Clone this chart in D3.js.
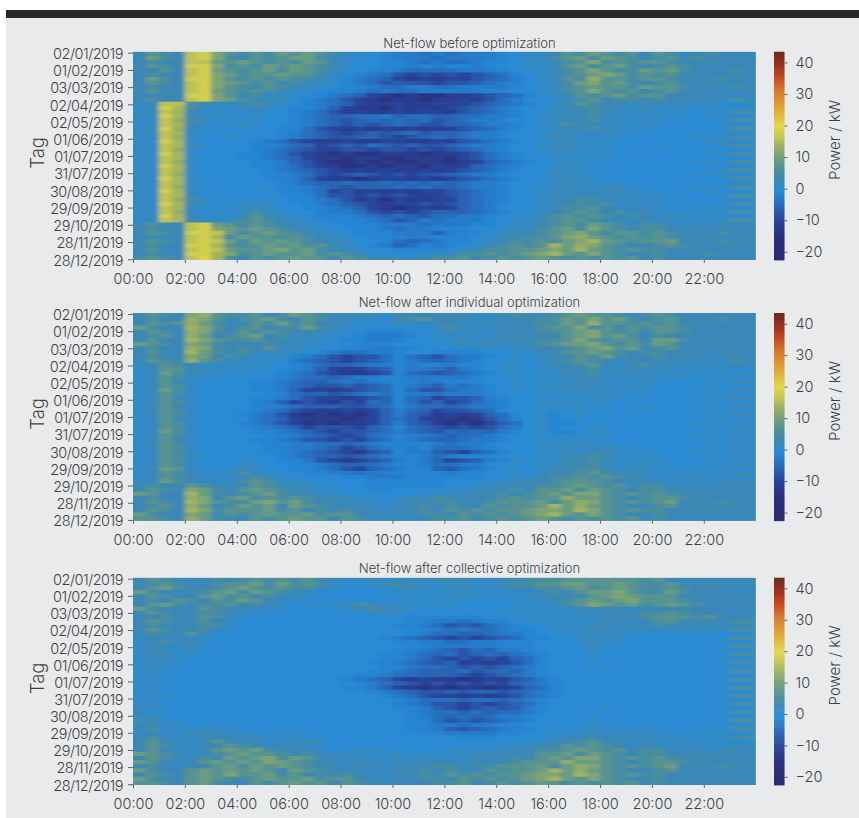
<!DOCTYPE html>
<html><head><meta charset="utf-8">
<script src="https://cdn.jsdelivr.net/npm/d3@7/dist/d3.min.js"></script>
<style>
html,body{margin:0;padding:0;background:#fff}
svg{display:block}
text{font-family:"Inter",sans-serif;font-weight:300;fill:#3f3f42}
</style></head><body><svg id="c" width="859" height="818"></svg>
<script>
// Level letters -> kW
const levelKeys = "abcdefghijklmnopqrst".split("");
const levelKw = [-14,-12,-10,-8,-6,-4.5,-3,-1.5,0,1.5,3,5,7,9,11,12.5,14,16,18,21];
const dateLabels = ["02/01/2019","01/02/2019","03/03/2019","02/04/2019","02/05/2019","01/06/2019","01/07/2019","31/07/2019","30/08/2019","29/09/2019","29/10/2019","28/11/2019","28/12/2019"];
const hourTicks = [0,2,4,6,8,10,12,14,16,18,20,22];
const hourLabels = ["00:00","02:00","04:00","06:00","08:00","10:00","12:00","14:00","16:00","18:00","20:00","22:00"];
const barTicks = [-20,-10,0,10,20,30,40];
const colorStops = [-22.6,-15,-10,-6,-2,0,3,6,10,14,17,20,23,27,31,35,39,43.4];
const colorHex = ["#2c2a70","#2b2f7c","#28459b","#2a63b4","#2483d2","#2a8bd4","#3a88b6","#4e8f98","#72a07c","#a4b45f","#c9c952","#e2d94c","#e2bc40","#dd9a35","#d67a2c","#c94c24","#a0321c","#6c2c1c"];
const titles = ["Net-flow before optimization","Net-flow after individual optimization","Net-flow after collective optimization"];

const netBefore = [
"kmlkrsom lmlnmnmk kjihggfg fggghijj kmlnmlmk mlkklkkk",
"knlkrsol kmlmnnlk jiihgggf gggghijj lmnlnmlk lmklkkkk",
"klkkrrnm nmlmlnmk jiihhgfg ffghhijj klmolmlm mlkkkkkk",
"kmlkssol mlnmnmlk jiihhghg hhghiijj kmnlmnlk lmlkkkkk",
"kkmkrsnm lmnlnmlk iihhgfff fggghijj klmomlln mnlkkklk",
"klkkrson lmmnmmkj ihgfdcdc dcdefhij jlmnonlm lmkkkkkk",
"knlkssom lmlmllkj hgfecbcb ccdefgij kmlpmmlm mlkkklkk",
"kmlkrson mlmklkjj hgfdeddc ddefghij jlnomnlk lmkkkkkk",
"klkkrsom lkmlkjji hhgffggf fgggghij jlmnmmln mmlkkjlk",
"kmkkrsnm lmlkjjih hgfgffgg ggghhiij klmomlmk lmkkkkjk",
"kkkkssom kljjiihg fecbabaa bbcdefhi jkmlmnlm mkkkjkjk",
"klkkrson lkjkjhgf dcbabbab bcbdfgii jjlmkllk lkkkkjlj",
"jkrrlkjj klkjihgf ecbbcbbc ccdefghi jkmlkkjk kkjjjiik",
"jjsqljjj jkjihhge cbbacbbb cdefghij jkklkkjk jjjijjii",
"jkrqkjji jjjihgfd bcbbcbcc bdefghii kjklkjjk jjjijjll",
"kjsqkjjj ijiihgfe effgeffe effgghij jkklkjjj jjiijjii",
"jjrplkji jjiihgfe defefefd efgghiij jkkljjjj jiiiijll",
"jjrqkjij kjiihgfe dedefedd eefgghij klkkjjjj jiiiijii",
"jkspjjji iiihhfdc bcbcbcbb cdefghii jkklkjjj iiiiiill",
"jjrqkiii iiihgfed cdedefde efgghiij kjjjjjii iiiiijii",
"kjrpjiij jiihgfed deedcdef efgghiij kkjjjjii iiijjjll",
"jjsqjiii ihgfdcbb cbbccbbc bdefghii jjjjjiii iiiijjii",
"jjrqkjii ihhgfecd edfededd efgghiij jkjjjiii jiiiijll",
"kjrpjiii ihgfedcc ddcddcdc defghiij kkjjjiii iiiijiii",
"jjsqjiii hhgfdcba baabbbab bcdfghii jjjjjiji iiiijjll",
"jjrqjiii hhgfecbb abbaabbb acdfghii jjjjjiii iiiiiiii",
"jjrpjiii ihhgedba ababaabb abcefghi jjjiiiii iiijjjll",
"jjsqjiii ihhgfdcb aababbac bcefghii jkjjjiii iiiijiii",
"kjrqkiii iihgfedc bcbcbbcb cdefghii jjjiiiii iiiiijll",
"jjrpjiii iihhgfdc dedcdcdd efgghiii kkjjiiii iiijjjii",
"jjsqjiii iihhgecb babccbcb cdefghii jjjjiiii iiiiijll",
"jjrqkiii iiihgfee feefefef efgghiii kkjjjjii iiiiiiii",
"kjrpjjii iijhhgfe deeefefe efgghiij jjkjjkji iijjjjll",
"jjsqjiii iiihhgfc dbcbcbcc defghiij jkjjkkjj iiiijiii",
"jjrqkiji iiiihhfd dcdcdcbc defghiij kjkkjjjj jiiiijll",
"jjrplkii jijihhgf dbcacbbc cefghiij kkllkkjj jjiiiiii",
"kjsqjjii jkjiihgf edcbccdc defghiij jklkljjj jijiijll",
"jjrqkjij kjjiihhg fecbabcb cefgiijj kllmkjkk jiijjjii",
"jjrpjiji jljjiihg gfdcdcde eefghijj klmlkljk jjjjjjll",
"jksqkjjj kmkjjihh hgfefedf fgghijjk lmlmlklk jkjjjjii",
"jjrqkjjj lmlkjjih hhgfdegf ggghijjk lmmlkkjk jjjjjjll",
"kmkkrsnm lmlkkjji hhhgggfg gghhijjk lmlnmlkl lkjkjkkj",
"klkkrson mnmlkkji ihhgfggh hhiijjjl mnlomlkl lkkkkkkk",
"kmlkssrn lmnmlkjj ihhhggge ghhijkkl mnomlmml mlkkklkk",
"kkkkrsql nmmlmlkk jihhhggh hhijkkll mopnmlml mlkkkkkk",
"kmlkrsrn lnmnmlkj kiihfefg hhijkllm lnoqnmlm mnkkklkk",
"klkkssqm lmnmnlmk jihgefhg hijklmlm qnpomlkk lmlkkkkk",
"kmkkrsrn mmnomnlk kjiihhhh ijkllmmn onqnmlml lkkkkkkk",
"klkkssqo lmnmmnlm lkjiiijj kllmlmno qnmomlkk lkkklkkk",
"lmlkrtql kmlmnmmk mlkkkjkl lmklmlmn mlmlmlmk lkkkkkkk"
];
const netIndividual = [
"kmlkopml lmklnmlk kkkjkkkk kkjjklkk lmnmmlkl mlkkkkkk",
"klkkpomk lmnlkmlk kjjiklmk kkjjkkkl lnmomnlk lmkkklkk",
"kmlmpnlk kmlnlmkk jiijkjjk kjjkkkkl lnmpmmlm lmkkkkkk",
"nlkkqomk lmkllnlk jjiiiiij lkjjkkkl mmolmkml mmlkkkkk",
"kmlkpolk mlmlkkkj jihhhiij kjjjkkkl lmnomlmk mmlkkkkk",
"klmkpnkl mnklkkjj ihggghij jjjjkkkk kmnomnlk lkkkkkkk",
"kmkkqoml lmkkjjji hhgghiii jkjkkkkl lmomlmmk nnlkkkkk",
"nmlkonlk kklkkjjj ihhhiiij jkjkjkkl mnnomlml nmkkkkkk",
"klkkpolk lkmjkjii hhgghhii iijjjjkk klmnomnk lmkkkkjk",
"kmkkqnlk lkjkjihg ffgghiih hhhiijjk kmmnmlkl lkkkjkkk",
"klkkonkl kjjjhgf dcddfhf edfgghij ij kkmlnlkk lkkkjkkk",
"kmlkpmlk jjjigfe dcdefhg fefghiij ij klmlkjkk kkkjkjlk",
"jkmlkjjj jjjihgf eefgghg hhghhijj ij kklmkjkl kkjjjjkk",
"jkmmkjjj jjiihge cbcdehg gfeghijj ij jkkljkkj jjjjjjii",
"jjnlkkji jiihgfd cbbcdhf edefghij ij jkkljjkk jjjjijkk",
"jkmljjji jiihgff efgghhg gggghiij ij jkkkjjjj jjjijjii",
"jjmkjiii ihhgfee fgfghhh gghhhiij ij jjkkjjjj jiiijikk",
"jkmljiii ihhgfed dedefhg fegfghij ij jkkjjjjj iiiijiii",
"jjnljiii ihhgecc bcdefhf ddfgghij ij jjjjkjjj iiiijikk",
"jkmljiii iihhfee defgfhg gfggghii ij jjjjjjjj iiijjiii",
"jjmkjiii ihhgfdc cbcdehf ecddeghi ij ijjjjjii iiiijjkk",
"jkmljiii ihgecdc bdcfehf decdfghi ij jjjjjiii iiiijiii",
"jkmkjiii ihhgfee eddefhg ffefgghi ij jjjjjiij iiijjikk",
"jjmljiii ihgfdcb bcbcegf ecddefhi ij ijjiiijj iiiiijii",
"jkmljiii hgfdbab abacege dbcbcefh ij hijiiiii iiiijikk",
"jjmkjiii igfecbb babcefe cbbabdfh ij hijiiiii iiiiijii",
"jjmljiii hgfdcab abbcege dbabacef ij hhijiiii iiijjjkk",
"jkmljiii ihgfecd ddcefhf edcdcdfg ij hiijjiii iiiijiii",
"jjnljiii ihhgfed cddefgf edfefegh ij hhijjiii iiiijikk",
"jkmljiii iihhgfe dcdfghg gfeffghi ij ijjjjiii iiijjjii",
"jjmkjiii ihhgfdd cdcefhg feefgghi ij jjjjiiii iiiijikk",
"jkmljiii iihhggf fefghhh hgfgghii ij jjkjjiii iiiijiii",
"jjmljiii iihhggf ecdfghg hfffghii ij jjjjkjji iiiijikk",
"jjmljiii iihhgfe dcbdehg gedcefhi ij jkjkkjjj iiijjjii",
"jkmljjii iiihgfe edefghh gfghhhij ij jkklkjjj jiiijikk",
"jjmljiii jiihhgd cbcdegh gecdeghj ij jkklkjjj jiiijiii",
"jkmljiii jjiihhg feefghh gffggiij ij jkkljjjj jjiijjkk",
"jjnmjjij kjiihhg fdcefgh hedfghij ij kkllkjkk jjijjjii",
"jkmlkjjj ljjiihh ggfgghh hhghhiij ij kklmlkkj jjjjjjkk",
"jkmlkjjj klkjjiii hhggghhh hhhiijjk llmlmlkk jjjjjjjj",
"kjnlkjjj lmljjjii iihhhhhh iiijjkkk lmmmlkjk jjjjjjkk",
"klkkmlkk kmlkkjji iihhhhhh iijjkkkl lmnmlmkl lkjkjkkj",
"kmlkonlk mnmlkkjj iihhiiij jjkkklkm mnlnmlkl lkkkkkkk",
"nmkkqnlk lmnlkkjj iijiiijj jkkklklm nmoomlml mlkkkkkk",
"klkkpokm nlmlmlkk kjjijkkl kkkklmlm mpnnmlkl mmlkkkkk",
"kmlkqoml lnomnlkk jkjjkkkl lkklmmmn lnpomlml mnkkklkk",
"klmkpnkl nmnknmlk kkjjjklk lkkmlmmn qnpnmlkk lmkkkkkk",
"kmlkqolm mmnlmklk lkkjkklk mlmlmmno onqomlml lkkkkkkk",
"nlkkonkm lmnmmnlm mkkjkkll kmlmlmno qnmomlkk lkkkkkkk",
"mmlkpnlk kmlmnmmk mlkkkjkl lmklmlmn mlmlmlmk lkkkkkkk"
];
const netCollective = [
"kmlkkklk lmlmlmkk jkkjjjkk kkjjkkll lmmmmmml mkkkkkkk",
"klmlkklm mnlnlmlj iijklkjj kkjjkllm mnnmmnml lmkkkkkk",
"kmnlkklm nmlmlljj iiijjkji kjjjjkkl lmnlmnml lmlkkkjk",
"nlkkklmn lnmlkjji iiijjjjj jkjjjjjk lkmnnoml lnlkkkjk",
"kmlkkmnl mklkjjii iiiiijij jjjjjjjk kkkmnonm mmkkkkkk",
"klkmlkml nmkjjiii iiiijjij jjiiijjj klmnmnom mmlkkkkk",
"kmnlkllm klkjijjj klkjjjjj jiiiijjj jlmonmnl mnmlkkkk",
"nlkkkmlk kjjjiiii jklkkjii iiiiijjj jjkkkjjk kkkkkkkk",
"kmlkkllk jjiiiiii iijkjiii iiiijjjj jjjjkkkl lmlkkkjk",
"kklkkmlk jiiiiiii iiiiihhh hhhiijjj jjjkkkkl mmmlmkkk",
"kmlkklkj iiiiiiii iiiiihhg gfghhijj jjjjkkjk lmkkkkll",
"klkkkllj iiiiiiii iiiihhgf dedfghii jjjjkjkk lkkkkkjk",
"kmlkkljj iiiiiiii iiiiihhg fgffghhi jjjkkjjj jkjjjjll",
"klkkmkii iiiiiiii iiiiihgf feefgghi ijjkjjjj iijjjiii",
"jkkkkjii iiiiiiii iiihgfed cdcdefhh iijjjjii iiiiiill",
"jkljkjii iiiiiiii iiiihhgg ffgghhhi iijkjjii iiiiijii",
"jkkjkiii iiiiiiii iiiiihhg gggghhhi iijjiiii iiiiiill",
"jkjjjjii iiiiiiii iiiihhgf edfegghi iiijjiii iiiiijii",
"jkkjjiii iiiiiiii iiihhgfe fdefefgh iiijiiii iiiiiill",
"jjkjiiii iiiiiiii iiihhgfd cdcdcefh iiijiiii iiiiijii",
"jkjjiiii iiiiiiii iihhgfed ebcbcdfh iiijiiii iiiiiill",
"jjjiiiii iiiiiiii iiihhgff ededefgh iiiijiii iiiiijii",
"jkjiiiii iiiiiiii iihhgfee efdefegh iiiiiiii iiiiiill",
"jjiiiiii iiiiiiii ihhgffee edcdefgh iiiiiiii iiiiijii",
"jjjiiiii iiiiiiii hgfecbcb babcbdeg hiiiiiii iiiiiill",
"jjiiiiii iiiiiiii ihgfedcd cdcdcefg hiiiiiii iiiiijii",
"jkiiiiii iiiiiiii hhgecbab abbabcef hiiiiiii iiiiiill",
"jjiiiiii iiiiiiii iihgfedd edeedefg hiiiiiii iiiiijii",
"jjjiiiii iiiiiiii iiihgfdc cbcbcdfg hiiiiiii iiiiiill",
"jjiiiiii iiiiiiii iiiihgff feffefgh iiiiiiii iiiiijii",
"jkiiiiii iiiiiiii iiiihgfd dcdcdefh iiiiiiii iiiiiill",
"jjjiiiii iiiiiiii iiiihhge dcdedegh iiiijiii iiiiijii",
"kjiiiiii iiiiiiii iiiiihgf fefeffgh iiiiiiii iiiiiill",
"jkjiiiii iiiiiiii iiiiihgf efefgghi iiijiiii iiiiijii",
"lkjjiiii iiiiiiii iiiiihhf dedefghi iiijjiii iiiiiill",
"jkjjiijj iiiiiiii iiiiihhg gfgghhii iijjiiii iiiijjii",
"kljjjkji iiijiiii iiiiihhg edefghhi iijjjjjj jiiiiill",
"jkjjjkkj jjijjjii iiiiiihh gggghhii jjjkjjjj jjijjjii",
"klkjkkkk kjjjkiii iiiiiiii ihhhiiii jkjkkjkj jjjijjll",
"kmkjjkmk jkjjjkki iiiiiiii iiiiiijj kklmkkjk jjjjjjii",
"kmlkjkkm lkjkkjji iiiiiiii iiiijjjk kmlmlkjk jjjjjjkk",
"kmkjjkmn mnlkkkji jjjjiiii jjjjjkkl lmnmlmkl lkjkjkkj",
"nmlkjklm nmmlklkj jjjjjjjj jjkkkkkm mnlnmlkl lkkkkkkk",
"kmlkklkn mnolnmkk kjjjkjjj jjkkklkm nmoomlml mlkkkkkk",
"nmkjkmnm nmonmlkk jkkjjjkk kkkkklmm mpnnmlkl mmlkkkkk",
"klkkkkmn lnmnmlkk jkkjkkkl lkklmmmn lnpomlml mnkkklkk",
"nlkkmnmn mnmknmlk kkjkkklk lkkmlmmn qnpnmlkk lmkkkkkk",
"kmlkmnmo mmnlmklk lkkjkklk mlmlmmno onqomlml lkkkkkkk",
"nlkkmnml lmnmmnlm mkkjkkll kmlmlmno qnmomlkk lkkkkkkk",
"mmlkmnlk kmlmnmmk mlkkkjkl lmklmlmn mlmlmlmk lkkkkkkk"
];

const svg = d3.select("#c");
const defs = svg.append("defs");
defs.append("filter").attr("id","soft").attr("x","-3%").attr("y","-3%").attr("width","106%").attr("height","106%")
  .append("feGaussianBlur").attr("stdDeviation","2.5 0");

svg.append("rect").attr("width",859).attr("height",818).attr("fill","#fff");
svg.append("rect").attr("x",6).attr("y",18).attr("width",853).attr("height",800).attr("fill","#e9eaec");
svg.append("rect").attr("x",6).attr("y",10).attr("width",853).attr("height",8).attr("fill","#26272a");

const kw = d3.scaleOrdinal().domain(levelKeys).range(levelKw);
const color = d3.scaleLinear().domain(colorStops).range(colorHex).interpolate(d3.interpolateRgb).clamp(true);

const plots = [
  {rows:netBefore, top:51.7, bottom:260, titleY:48},
  {rows:netIndividual, top:313, bottom:520.7, titleY:307},
  {rows:netCollective, top:577.7, bottom:785, titleY:573}
];
const left = 133, right = 755.7;
const cols = d3.range(48);
const x = d3.scaleBand().domain(cols).range([left,right]);
const xTime = d3.scaleLinear().domain([0,24]).range([left,right]);

plots.forEach((p,pi)=>{
  const g = svg.append("g");
  const y = d3.scaleBand().domain(d3.range(p.rows.length)).range([p.top,p.bottom]);
  const cells = p.rows.flatMap((s,r)=>s.replace(/ /g,"").split("").map((ch,c)=>({r,c,v:kw(ch)})));
  const clipId = "clip"+pi;
  defs.append("clipPath").attr("id",clipId).append("rect")
    .attr("x",left).attr("y",p.top).attr("width",right-left).attr("height",p.bottom-p.top);
  const holder = g.append("g").attr("clip-path",`url(#${clipId})`);
  const cellG = holder.append("g").attr("id","cells"+pi);
  cellG.selectAll("rect").data(cells).join("rect")
    .attr("x",d=>x(d.c)).attr("y",d=>y(d.r))
    .attr("width",x.bandwidth()+0.5).attr("height",y.bandwidth()+0.5)
    .attr("fill",d=>color(d.v));
  holder.append("use").attr("href","#cells"+pi).attr("filter","url(#soft)");

  const yTick = d3.scalePoint().domain(dateLabels).range([p.top+1,p.bottom-0.8]);
  const ax = g.append("g").attr("transform",`translate(${left},0)`)
    .call(d3.axisLeft(yTick).tickSize(5).tickPadding(5));
  const bx = g.append("g").attr("transform",`translate(0,${p.bottom})`)
    .call(d3.axisBottom(xTime).tickValues(hourTicks).tickFormat((d,i)=>hourLabels[i]).tickSize(3).tickPadding(11));
  [ax,bx].forEach(a=>{
    a.select(".domain").remove();
    a.selectAll(".tick line").attr("stroke","#3f3f42").attr("stroke-width",0.8);
    a.selectAll("text").attr("font-size",14.5).attr("font-family","Inter").attr("font-weight",300).attr("fill","#3f3f42");
  });
  ax.selectAll("text").attr("letter-spacing",-0.5).attr("dy","0.4em");
  g.append("text").attr("x",469.5).attr("y",p.titleY).attr("text-anchor","middle").attr("font-size",13).text(titles[pi]);
  g.append("text").attr("transform",`translate(44,${(p.top+p.bottom)/2-3}) rotate(-90)`).attr("text-anchor","middle").attr("font-size",18.5).text("Tag");

  const cb = d3.scaleLinear().domain([colorStops[0],colorStops[colorStops.length-1]]).range([p.bottom,p.top]);
  const steps = d3.range(0,104).map(i=>colorStops[0]+(i+0.5)*(colorStops[colorStops.length-1]-colorStops[0])/104);
  const sh = (p.bottom-p.top)/104;
  g.append("g").selectAll("rect").data(steps).join("rect")
    .attr("x",774).attr("width",10.5).attr("y",d=>cb(d)-sh/2).attr("height",sh+0.4).attr("fill",d=>color(d));
  const cx = g.append("g").attr("transform","translate(784.5,0)")
    .call(d3.axisRight(cb).tickValues(barTicks).tickSize(3).tickPadding(8));
  cx.select(".domain").remove();
  cx.selectAll(".tick line").attr("stroke","#3f3f42").attr("stroke-width",0.8);
  cx.selectAll("text").attr("font-size",14.5).attr("font-family","Inter").attr("font-weight",300).attr("fill","#3f3f42");
  g.append("text").attr("transform",`translate(840,${(p.top+p.bottom)/2-16}) rotate(-90)`).attr("text-anchor","middle").attr("font-size",15).text("Power / kW");
});
</script></body></html>
